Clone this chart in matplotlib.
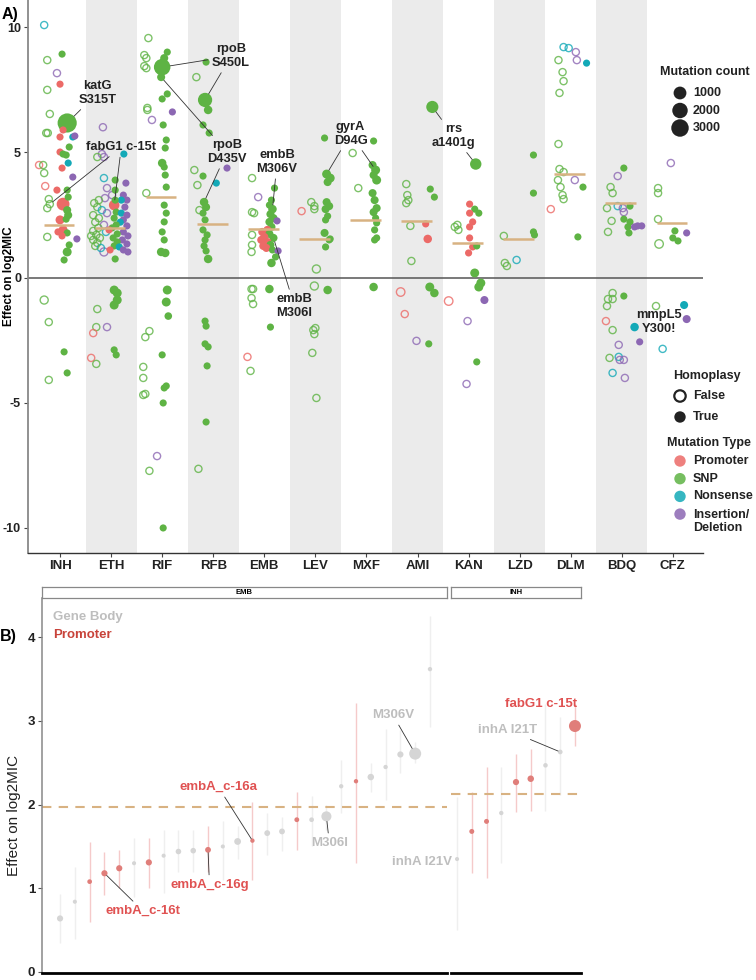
import matplotlib.pyplot as plt
import numpy as np

plt.rcParams['font.family'] = ['Liberation Sans', 'DejaVu Sans']

# ---------------- Panel A data ----------------
drugs = ["INH", "ETH", "RIF", "RFB", "EMB", "LEV", "MXF", "AMI", "KAN", "LZD", "DLM", "BDQ", "CFZ"]
medians = [2.10, 1.98, 3.21, 2.14, 1.94, 1.54, 2.30, 2.26, 1.38, 1.54, 4.13, 2.97, 2.18]

# (jitter, effect on log2MIC, type, homoplasy, mutation count)
# type: P promoter, S SNP, N nonsense, I insertion/deletion
INH = [(-0.31, 10.08, 'N', 0, 10), (-0.25, 8.68, 'S', 0, 10), (-0.06, 8.16, 'I', 0, 10),
       (-0.25, 7.49, 'S', 0, 10), (-0.20, 6.53, 'S', 0, 10), (-0.27, 5.77, 'S', 0, 10),
       (-0.24, 5.77, 'S', 0, 10), (-0.41, 4.49, 'P', 0, 10), (-0.33, 4.49, 'S', 0, 10),
       (-0.31, 4.17, 'S', 0, 10), (-0.29, 3.65, 'P', 0, 10), (-0.22, 3.13, 'S', 0, 10),
       (-0.20, 2.93, 'S', 0, 10), (-0.25, 2.77, 'S', 0, 10), (-0.25, 1.62, 'S', 0, 10),
       (-0.31, -0.90, 'S', 0, 60), (-0.22, -1.78, 'S', 0, 10), (-0.22, -4.09, 'S', 0, 10),
       (0.04, 8.92, 'S', 1, 10), (0.00, 7.72, 'P', 1, 10), (0.14, 6.17, 'S', 1, 4000),
       (0.06, 5.89, 'P', 1, 10), (0.00, 5.61, 'P', 1, 10), (0.25, 5.61, 'N', 1, 10),
       (0.29, 5.65, 'I', 1, 10), (0.18, 5.21, 'S', 1, 10), (0.00, 5.01, 'P', 1, 10),
       (0.06, 4.93, 'S', 1, 10), (0.12, 4.89, 'S', 1, 10), (0.16, 4.57, 'N', 1, 10),
       (0.04, 4.37, 'P', 1, 10), (0.25, 4.01, 'I', 1, 10), (-0.06, 3.49, 'P', 1, 10),
       (0.14, 3.49, 'S', 1, 10), (0.16, 3.21, 'S', 1, 10), (0.06, 2.93, 'P', 1, 1000),
       (0.14, 2.69, 'S', 1, 60), (0.16, 2.49, 'S', 1, 60), (0.12, 2.33, 'S', 1, 10),
       (0.00, 2.30, 'P', 1, 150), (0.06, 1.90, 'P', 1, 150), (-0.04, 1.82, 'P', 1, 10),
       (0.14, 1.78, 'S', 1, 10), (0.04, 1.66, 'P', 1, 10), (0.33, 1.54, 'I', 1, 10),
       (0.18, 1.30, 'S', 1, 10), (0.14, 1.02, 'S', 1, 150), (0.08, 0.70, 'S', 1, 10),
       (0.08, -2.97, 'S', 1, 10), (0.14, -3.81, 'S', 1, 10)]

ETH = [(-0.16, 6.00, 'I', 0, 10), (-0.18, 4.93, 'I', 0, 10), (-0.14, 4.81, 'I', 0, 10),
       (-0.27, 4.81, 'S', 0, 10), (-0.14, 3.97, 'N', 0, 10), (-0.08, 3.57, 'I', 0, 10),
       (0.02, 3.29, 'I', 0, 10), (-0.12, 3.17, 'I', 0, 10), (-0.24, 3.09, 'S', 0, 10),
       (-0.33, 2.97, 'S', 0, 10), (-0.27, 2.81, 'S', 0, 10), (-0.18, 2.69, 'N', 0, 10),
       (-0.08, 2.57, 'I', 0, 10), (-0.35, 2.49, 'S', 0, 10), (-0.24, 2.37, 'S', 0, 10),
       (-0.31, 2.21, 'S', 0, 10), (-0.14, 2.10, 'I', 0, 10), (-0.25, 1.98, 'S', 0, 10),
       (-0.35, 1.86, 'S', 0, 10), (-0.10, 1.82, 'N', 0, 10), (-0.29, 1.70, 'S', 0, 10),
       (-0.22, 1.58, 'S', 0, 10), (-0.35, 1.50, 'S', 0, 10), (-0.27, 1.38, 'S', 0, 10),
       (-0.20, 1.18, 'N', 0, 10), (-0.14, 1.02, 'I', 0, 60), (-0.31, 1.26, 'S', 0, 10),
       (-0.39, 1.66, 'S', 0, 10), (-0.27, -1.26, 'S', 0, 10), (-0.29, -1.98, 'S', 0, 10),
       (-0.08, -1.98, 'I', 0, 10), (-0.35, -2.22, 'P', 0, 10), (-0.39, -3.21, 'P', 0, 10),
       (-0.29, -3.45, 'S', 0, 10),
       (0.25, 4.93, 'N', 1, 10), (0.08, 3.89, 'S', 1, 10), (0.29, 3.77, 'I', 1, 10),
       (0.08, 3.49, 'S', 1, 10), (0.24, 3.29, 'I', 1, 10), (0.31, 3.09, 'I', 1, 10),
       (0.20, 3.09, 'N', 1, 10), (0.08, 3.09, 'S', 1, 10), (0.06, 2.89, 'P', 1, 400),
       (0.27, 2.81, 'I', 1, 10), (0.10, 2.61, 'S', 1, 10), (0.20, 2.57, 'N', 1, 10),
       (0.31, 2.49, 'I', 1, 10), (0.06, 2.37, 'S', 1, 10), (0.24, 2.30, 'I', 1, 10),
       (0.18, 2.21, 'N', 1, 10), (0.10, 2.10, 'S', 1, 10), (0.31, 2.06, 'I', 1, 10),
       (0.02, 1.98, 'S', 1, 10), (-0.04, 1.90, 'P', 1, 10), (0.24, 1.82, 'I', 1, 10),
       (0.12, 1.74, 'S', 1, 10), (0.33, 1.66, 'I', 1, 10), (0.04, 1.58, 'S', 1, 10),
       (0.22, 1.50, 'I', 1, 10), (0.12, 1.42, 'S', 1, 10), (0.31, 1.34, 'I', 1, 10),
       (0.06, 1.26, 'S', 1, 10), (0.16, 1.22, 'N', 1, 10), (0.24, 1.10, 'I', 1, 10),
       (-0.02, 1.10, 'P', 1, 10), (0.33, 1.02, 'I', 1, 10), (0.08, 0.74, 'S', 1, 10),
       (0.06, -0.50, 'S', 1, 150), (0.12, -0.62, 'S', 1, 150), (0.12, -0.90, 'S', 1, 150),
       (0.06, -1.10, 'S', 1, 150), (0.06, -2.89, 'S', 1, 10), (0.10, -3.09, 'S', 1, 10)]

RIF = [(-0.27, 9.56, 'S', 0, 10), (-0.35, 8.88, 'S', 0, 10), (-0.31, 8.76, 'S', 0, 10),
       (-0.35, 8.44, 'S', 0, 10), (-0.31, 8.36, 'S', 0, 10), (-0.29, 6.77, 'S', 0, 10),
       (-0.29, 6.69, 'S', 0, 10), (-0.20, 6.29, 'I', 0, 10), (-0.31, 3.37, 'S', 0, 10),
       (-0.25, -2.14, 'S', 0, 10), (-0.33, -2.38, 'S', 0, 10), (-0.37, -3.57, 'S', 0, 10),
       (-0.37, -4.01, 'S', 0, 10), (-0.37, -4.69, 'S', 0, 10), (-0.33, -4.65, 'S', 0, 10),
       (-0.10, -7.13, 'I', 0, 10), (-0.25, -7.72, 'S', 0, 10),
       (0.10, 9.00, 'S', 1, 10), (0.04, 8.76, 'S', 1, 60), (0.00, 8.40, 'S', 1, 2500),
       (-0.02, 8.00, 'S', 1, 60), (0.10, 7.33, 'S', 1, 10), (0.00, 7.13, 'S', 1, 10),
       (0.20, 6.61, 'I', 1, 10), (0.02, 6.09, 'S', 1, 10), (0.08, 5.49, 'S', 1, 10),
       (0.06, 5.17, 'S', 1, 10), (0.00, 4.57, 'S', 1, 100), (0.04, 4.41, 'S', 1, 10),
       (0.06, 4.09, 'S', 1, 10), (0.08, 3.61, 'S', 1, 10), (0.04, 2.89, 'S', 1, 10),
       (0.08, 2.57, 'S', 1, 10), (0.04, 2.22, 'S', 1, 10), (0.00, 1.82, 'S', 1, 10),
       (0.04, 1.50, 'S', 1, 10), (-0.02, 1.02, 'S', 1, 100), (0.06, 0.98, 'S', 1, 100),
       (0.10, -0.50, 'S', 1, 150), (0.08, -0.98, 'S', 1, 150), (0.12, -1.54, 'S', 1, 30),
       (0.00, -3.09, 'S', 1, 10), (0.08, -4.33, 'S', 1, 10), (0.04, -4.41, 'S', 1, 10),
       (0.02, -5.01, 'S', 1, 10), (0.02, -10.00, 'S', 1, 10)]

RFB = [(-0.33, 8.00, 'S', 0, 10), (-0.37, 4.29, 'S', 0, 10), (-0.31, 3.69, 'S', 0, 10),
       (-0.27, 2.69, 'S', 0, 10), (-0.29, -7.64, 'S', 0, 10),
       (-0.14, 8.60, 'S', 1, 10), (-0.16, 7.09, 'S', 1, 1500), (-0.10, 6.69, 'S', 1, 100),
       (-0.20, 6.09, 'S', 1, 10), (-0.08, 5.77, 'S', 1, 10), (-0.20, 4.05, 'S', 1, 10),
       (0.06, 3.77, 'N', 1, 10), (0.27, 4.37, 'I', 1, 10), (-0.18, 3.01, 'S', 1, 100),
       (-0.14, 2.81, 'S', 1, 60), (-0.20, 2.57, 'S', 1, 10), (-0.16, 2.30, 'S', 1, 10),
       (-0.20, 1.90, 'S', 1, 10), (-0.12, 1.70, 'S', 1, 10), (-0.16, 1.50, 'S', 1, 10),
       (-0.18, 1.26, 'S', 1, 10), (-0.14, 1.06, 'S', 1, 10), (-0.10, 0.74, 'S', 1, 100),
       (-0.16, -1.74, 'S', 1, 10), (-0.14, -1.94, 'S', 1, 10), (-0.16, -2.65, 'S', 1, 10),
       (-0.10, -2.77, 'S', 1, 10), (-0.12, -3.53, 'S', 1, 10), (-0.14, -5.77, 'S', 1, 10)]

EMB = [(-0.24, 3.97, 'S', 0, 10), (-0.12, 3.21, 'I', 0, 10), (-0.24, 2.61, 'S', 0, 10),
       (-0.20, 2.57, 'S', 0, 10), (-0.24, 1.70, 'S', 0, 10), (-0.24, 1.30, 'S', 0, 10),
       (-0.25, 1.02, 'S', 0, 10), (-0.25, -0.46, 'S', 0, 10), (-0.22, -0.46, 'S', 0, 10),
       (-0.25, -0.82, 'S', 0, 10), (-0.22, -1.06, 'S', 0, 10), (-0.33, -3.17, 'P', 0, 10),
       (-0.27, -3.73, 'S', 0, 10),
       (0.20, 3.57, 'S', 1, 10), (0.14, 3.09, 'S', 1, 10), (0.10, 2.89, 'S', 1, 10),
       (0.16, 2.73, 'S', 1, 100), (0.12, 2.53, 'S', 1, 60), (0.18, 2.37, 'S', 1, 60),
       (0.25, 2.26, 'I', 1, 10), (0.10, 2.22, 'S', 1, 60), (0.14, 2.02, 'S', 1, 60),
       (0.06, 1.90, 'P', 1, 60), (-0.04, 1.82, 'P', 1, 60), (0.10, 1.74, 'S', 1, 60),
       (0.00, 1.62, 'P', 1, 60), (0.18, 1.58, 'S', 1, 60), (-0.06, 1.50, 'P', 1, 60),
       (0.06, 1.42, 'P', 1, 60), (0.12, 1.30, 'S', 1, 60), (-0.02, 1.26, 'P', 1, 60),
       (0.04, 1.18, 'P', 1, 60), (0.16, 1.10, 'S', 1, 10), (0.27, 1.06, 'I', 1, 10),
       (0.22, 0.82, 'S', 1, 10), (0.14, 0.58, 'S', 1, 100), (0.10, -0.46, 'S', 1, 100),
       (0.12, -1.98, 'S', 1, 10)]

LEV = [(-0.27, 2.65, 'P', 0, 10), (-0.08, 3.01, 'S', 0, 10), (-0.02, 2.85, 'S', 0, 10),
       (-0.02, 2.73, 'S', 0, 10), (0.02, 0.34, 'S', 0, 60), (-0.02, -0.34, 'S', 0, 60),
       (0.00, -2.02, 'S', 0, 10), (-0.04, -2.10, 'S', 0, 10), (-0.02, -2.26, 'S', 0, 10),
       (-0.06, -3.01, 'S', 0, 10), (0.02, -4.81, 'S', 0, 10),
       (0.18, 5.57, 'S', 1, 10), (0.22, 4.13, 'S', 1, 150), (0.29, 3.97, 'S', 1, 150),
       (0.24, 3.81, 'S', 1, 60), (0.22, 3.01, 'S', 1, 60), (0.27, 2.85, 'S', 1, 60),
       (0.20, 2.73, 'S', 1, 60), (0.24, 2.45, 'S', 1, 10), (0.20, 2.30, 'S', 1, 10),
       (0.18, 1.78, 'S', 1, 60), (0.29, 1.54, 'S', 1, 10), (0.27, 1.50, 'S', 1, 10),
       (0.20, 1.22, 'S', 1, 10), (0.24, -0.50, 'S', 1, 100)]

MXF = [(-0.27, 4.97, 'S', 0, 10), (-0.16, 3.57, 'S', 0, 10),
       (0.14, 5.45, 'S', 1, 10), (0.12, 4.49, 'S', 1, 60), (0.18, 4.29, 'S', 1, 150),
       (0.14, 4.09, 'S', 1, 60), (0.20, 3.89, 'S', 1, 150), (0.12, 3.37, 'S', 1, 60),
       (0.16, 3.09, 'S', 1, 60), (0.20, 2.77, 'S', 1, 60), (0.14, 2.61, 'S', 1, 60),
       (0.18, 2.37, 'S', 1, 10), (0.20, 2.18, 'S', 1, 10), (0.16, 1.90, 'S', 1, 10),
       (0.20, 1.58, 'S', 1, 10), (0.16, 1.50, 'S', 1, 10), (0.14, -0.38, 'S', 1, 100)]

AMI = [(-0.22, 3.73, 'S', 0, 10), (-0.20, 3.29, 'S', 0, 10), (-0.18, 3.09, 'S', 0, 10),
       (-0.22, 2.97, 'S', 0, 10), (-0.14, 2.06, 'S', 0, 10), (-0.12, 0.66, 'S', 0, 10),
       (-0.33, -0.58, 'P', 0, 100), (-0.25, -1.46, 'P', 0, 10), (-0.02, -2.53, 'I', 0, 10),
       (0.29, 6.81, 'S', 1, 800), (0.25, 3.53, 'S', 1, 10), (0.33, 3.21, 'S', 1, 10),
       (0.16, 2.14, 'P', 1, 10), (0.20, 1.54, 'P', 1, 100), (0.24, -0.38, 'S', 1, 150),
       (0.33, -0.62, 'S', 1, 100), (0.22, -2.65, 'S', 1, 10)]

KAN = [(-0.27, 2.02, 'S', 0, 10), (-0.22, 2.10, 'S', 0, 10), (-0.20, 1.90, 'S', 0, 10),
       (-0.39, -0.94, 'P', 0, 100), (-0.02, -1.74, 'I', 0, 10), (-0.04, -4.25, 'I', 0, 10),
       (0.14, 4.53, 'S', 1, 600), (0.02, 2.93, 'P', 1, 10), (0.12, 2.73, 'S', 1, 10),
       (0.20, 2.57, 'S', 1, 10), (0.02, 2.57, 'P', 1, 10), (0.08, 2.22, 'P', 1, 10),
       (0.02, 2.02, 'P', 1, 10), (0.02, 1.58, 'P', 1, 10), (0.08, 1.22, 'P', 1, 10),
       (0.00, 0.98, 'P', 1, 10), (0.16, 1.26, 'S', 1, 10), (0.12, 0.18, 'S', 1, 150),
       (0.24, -0.22, 'S', 1, 150), (0.20, -0.38, 'S', 1, 150), (0.31, -0.90, 'I', 1, 60),
       (0.16, -3.37, 'S', 1, 10)]

LZD = [(-0.31, 1.66, 'S', 0, 10), (-0.29, 0.58, 'S', 0, 10), (-0.25, 0.46, 'S', 0, 10),
       (-0.06, 0.70, 'N', 0, 10),
       (0.27, 4.89, 'S', 1, 10), (0.27, 3.37, 'S', 1, 10), (0.27, 1.82, 'S', 1, 10),
       (0.29, 1.70, 'S', 1, 10)]

DLM = [(-0.14, 9.20, 'N', 0, 10), (-0.04, 9.16, 'N', 0, 10), (0.10, 9.00, 'I', 0, 10),
       (0.12, 8.68, 'I', 0, 10), (-0.24, 8.68, 'S', 0, 10), (-0.16, 8.20, 'S', 0, 10),
       (-0.14, 7.84, 'S', 0, 10), (-0.22, 7.37, 'S', 0, 10), (-0.24, 5.33, 'S', 0, 10),
       (-0.22, 4.33, 'S', 0, 10), (-0.14, 4.21, 'S', 0, 10), (-0.25, 3.89, 'S', 0, 10),
       (0.08, 3.89, 'I', 0, 10), (-0.20, 3.61, 'S', 0, 10), (-0.16, 3.29, 'S', 0, 10),
       (-0.14, 3.13, 'S', 0, 10), (-0.39, 2.73, 'P', 0, 10),
       (0.31, 8.56, 'N', 1, 10), (0.24, 3.61, 'S', 1, 10), (0.14, 1.62, 'S', 1, 10)]

BDQ = [(-0.08, 4.05, 'I', 0, 10), (-0.22, 3.61, 'S', 0, 10), (-0.18, 3.37, 'S', 0, 10),
       (-0.29, 2.77, 'S', 0, 10), (-0.08, 2.85, 'N', 0, 10), (0.02, 2.77, 'I', 0, 10),
       (0.04, 2.61, 'I', 0, 10), (-0.20, 2.26, 'S', 0, 10), (-0.27, 1.82, 'S', 0, 10),
       (-0.18, -0.62, 'S', 0, 10), (-0.27, -0.86, 'S', 0, 10), (-0.18, -0.86, 'S', 0, 10),
       (-0.29, -1.14, 'S', 0, 10), (-0.31, -1.74, 'P', 0, 10), (-0.18, -2.10, 'S', 0, 10),
       (-0.06, -2.69, 'I', 0, 10), (-0.24, -3.21, 'S', 0, 10), (-0.06, -3.17, 'N', 0, 10),
       (-0.04, -3.29, 'I', 0, 10), (0.04, -3.29, 'I', 0, 10), (-0.18, -3.81, 'N', 0, 10),
       (0.06, -4.01, 'I', 0, 10),
       (0.04, 4.37, 'S', 1, 10), (0.16, 2.85, 'S', 1, 10), (0.04, 2.33, 'S', 1, 10),
       (0.16, 2.22, 'S', 1, 10), (0.12, 2.02, 'S', 1, 10), (0.14, 1.78, 'S', 1, 10),
       (0.25, 2.02, 'I', 1, 10), (0.31, 2.06, 'I', 1, 10), (0.39, 2.06, 'I', 1, 10),
       (0.04, -0.74, 'S', 1, 10), (0.25, -1.98, 'N', 1, 100), (0.35, -2.57, 'I', 1, 10)]

CFZ = [(-0.04, 4.57, 'I', 0, 10), (-0.29, 3.57, 'S', 0, 10), (-0.29, 3.37, 'S', 0, 10),
       (-0.29, 2.33, 'S', 0, 10), (-0.27, 1.34, 'S', 0, 100), (-0.33, -1.14, 'S', 0, 10),
       (-0.20, -2.85, 'N', 0, 10),
       (0.04, 1.86, 'S', 1, 10), (0.00, 1.58, 'S', 1, 10), (0.10, 1.46, 'S', 1, 10),
       (0.27, 1.78, 'I', 1, 10), (0.22, -1.10, 'N', 1, 60), (0.27, -1.66, 'I', 1, 60)]

mutations = [INH, ETH, RIF, RFB, EMB, LEV, MXF, AMI, KAN, LZD, DLM, BDQ, CFZ]

type_colors = {'P': '#EC6A67', 'S': '#5EB344', 'N': '#13A9B7', 'I': '#8C67B3'}
type_names = {'P': 'Promoter', 'S': 'SNP', 'N': 'Nonsense', 'I': 'Insertion/\nDeletion'}
count_breaks = [1000, 2000, 3000]

# labels: text, drug, effect of labelled point(s), text position
a_labels = [("katG\nS315T", [("INH", 6.17)], 0.73, 7.36),
            ("fabG1 c-15t", [("INH", 2.93), ("ETH", 2.89)], 1.20, 5.21),
            ("rpoB\nS450L", [("RIF", 8.40), ("RFB", 7.09)], 3.35, 8.84),
            ("rpoB\nD435V", [("RIF", 8.00), ("RFB", 3.01)], 3.27, 5.01),
            ("embB\nM306V", [("EMB", 2.73)], 4.25, 4.61),
            ("embB\nM306I", [("EMB", 1.58)], 4.59, -1.14),
            ("gyrA\nD94G", [("LEV", 4.13), ("MXF", 4.29)], 5.69, 5.73),
            ("rrs\na1401g", [("AMI", 6.81), ("KAN", 4.53)], 7.71, 5.65),
            ("mmpL5\nY300!", [], 11.73, -1.78)]

# ---------------- Panel B data ----------------
emb_eff = [0.64, 0.84, 1.08, 1.18, 1.24, 1.30, 1.31, 1.39, 1.44, 1.45, 1.46, 1.50, 1.56,
           1.57, 1.66, 1.68, 1.82, 1.82, 1.86, 2.22, 2.28, 2.33, 2.45, 2.60, 2.61, 3.62]
emb_lo = [0.35, 0.40, 0.60, 0.92, 1.00, 0.90, 1.00, 0.94, 1.20, 1.20, 1.20, 1.10, 1.35,
          1.10, 1.40, 1.45, 1.46, 1.50, 1.70, 1.90, 1.30, 2.15, 2.05, 2.38, 2.50, 2.93]
emb_hi = [0.93, 1.25, 1.55, 1.44, 1.46, 1.60, 1.60, 1.70, 1.70, 1.70, 1.74, 1.80, 1.75,
          2.03, 1.90, 1.85, 2.15, 2.10, 2.00, 2.53, 3.22, 2.50, 2.91, 2.89, 2.75, 4.25]
emb_region = ['G', 'G', 'P', 'P', 'P', 'G', 'P', 'G', 'G', 'G', 'P', 'G', 'G',
              'P', 'G', 'G', 'P', 'G', 'G', 'G', 'P', 'G', 'G', 'G', 'G', 'G']
emb_n = [20, 1, 4, 20, 20, 1, 20, 1, 12, 12, 15, 1, 30, 2, 15, 15, 5, 4, 120, 2, 2, 25, 2, 20, 200, 2]

inh_eff = [1.35, 1.68, 1.80, 1.90, 2.27, 2.31, 2.47, 2.63, 2.94]
inh_lo = [0.50, 1.18, 1.12, 1.30, 1.91, 1.93, 1.93, 2.11, 2.70]
inh_hi = [2.09, 2.15, 2.45, 2.45, 2.61, 2.67, 3.20, 3.05, 3.20]
inh_region = ['G', 'P', 'P', 'G', 'P', 'P', 'G', 'G', 'P']
inh_n = [1, 6, 6, 2, 20, 25, 3, 4, 200]

emb_median = 1.97
inh_median = 2.13

# text, index of point, text x, text y, line drawn
emb_labels = [("embA_c-16t", 3, 6.6, 0.73, True),
              ("embA_c-16g", 10, 11.1, 1.04, True),
              ("embA_c-16a", 13, 11.7, 2.21, True),
              ("M306I", 18, 19.2, 1.54, True),
              ("M306V", 24, 23.5, 3.07, True)]
inh_labels = [("inhA I21V", 0, -1.4, 1.31, False),
              ("inhA I21T", 7, 4.46, 2.89, True),
              ("fabG1 c-15t", 8, 6.69, 3.20, False)]

region_pt = {'G': '#D5D5D5', 'P': '#E07E7A'}
region_bar = {'G': '#EFEFEF', 'P': '#F5CACA'}
region_txt = {'G': '#BEBEBE', 'P': '#E05252'}
tan = '#D8B282'

W, H = 756, 980
fig = plt.figure(figsize=(W / 100, H / 100), dpi=100)


def px_axes(x0, y0, x1, y1):
    return fig.add_axes([x0 / W, 1 - y1 / H, (x1 - x0) / W, (y1 - y0) / H])


def size_a(count):
    d_px = 6.5 + 0.2 * np.sqrt(count)
    return (d_px * 0.72) ** 2


def size_b(n):
    d_px = 3.5 + 0.6 * np.sqrt(n)
    return (d_px * 0.72) ** 2


# ================= Panel A =================
ax = px_axes(28, 0, 703, 553)
ax.set_xlim(-0.627, 12.59)
ax.set_ylim(-11.0, 11.08)
for i in range(len(drugs)):
    if i % 2 == 1:
        ax.axvspan(i - 0.5, i + 0.5, color='#EBEBEB', zorder=0, lw=0)
ax.axhline(0, color='#555555', lw=1.1, zorder=1)

for i, pts in enumerate(mutations):
    order = sorted(pts, key=lambda p: -p[4])
    for dx, eff, t, homo, cnt in order:
        c = type_colors[t]
        if homo:
            ax.scatter(i + dx, eff, s=size_a(cnt), color=c, edgecolors='none', zorder=3)
        else:
            ax.scatter(i + dx, eff, s=size_a(cnt), facecolors='none', edgecolors=c,
                       linewidths=1.0, alpha=0.8, zorder=2)
    ax.plot([i - 0.32, i + 0.28], [medians[i], medians[i]], color=tan, lw=1.8, zorder=4,
            solid_capstyle='butt')


def find_pt(drug, eff):
    i = drugs.index(drug)
    p = min(mutations[i], key=lambda q: abs(q[1] - eff))
    return i + p[0], p[1], p[4]


for text, targets, tx, ty in a_labels:
    if not targets:
        ax.text(tx, ty, text, ha='center', va='center', fontsize=9.3, fontweight='bold',
                color='#222222', zorder=6, linespacing=1.15)
    for k, (drug, eff) in enumerate(targets):
        x, y, cnt = find_pt(drug, eff)
        r = np.sqrt(size_a(cnt)) / 2
        ax.annotate(text, xy=(x, y), xytext=(tx, ty), ha='center', va='center',
                    fontsize=9.3, fontweight='bold', color='#222222' if k == 0 else 'none',
                    zorder=6, linespacing=1.15,
                    arrowprops=dict(arrowstyle='-', color='#333333', lw=0.6,
                                    shrinkA=1, shrinkB=r))

ax.set_xticks(range(len(drugs)))
ax.set_xticklabels(drugs, fontsize=9.5, fontweight='bold')
ax.set_yticks([-10, -5, 0, 5, 10])
ax.set_yticklabels(['-10', '-5', '0', '5', '10'], fontsize=9, fontweight='bold')
ax.tick_params(axis='both', length=3, width=0.8, color='#444444', labelcolor='#222222', pad=2)
for side in ['top', 'right']:
    ax.spines[side].set_visible(False)
ax.spines['left'].set_color('#888888')
ax.spines['left'].set_linewidth(1.3)
ax.spines['bottom'].set_color('#333333')
ax.spines['bottom'].set_linewidth(1.0)
ax.set_ylabel('Effect on log2MIC', fontsize=8.5, fontweight='bold')
ax.yaxis.set_label_coords(-0.019, 0.5)

fig.text(2 / W, 1 - 14 / H, 'A)', fontsize=11.5, fontweight='bold', va='center')

# ================= Panel B =================
ax_e = px_axes(42, 598, 447, 973)
ax_i = px_axes(451, 598, 581, 973)
ax_e.set_xlim(-0.22, 27.15)
ax_i.set_xlim(0.59, 9.41)
for a in (ax_e, ax_i):
    a.set_ylim(-0.012, 4.47)
    a.set_xticks([])
    for side in ['top', 'right']:
        a.spines[side].set_visible(False)
    a.spines['bottom'].set_color('black')
    a.spines['bottom'].set_linewidth(2.0)
ax_i.spines['left'].set_visible(False)
ax_i.set_yticks([])
ax_e.spines['left'].set_color('#888888')
ax_e.spines['left'].set_linewidth(1.1)
ax_e.set_yticks([0, 1, 2, 3, 4])
ax_e.set_yticklabels(['0', '1', '2', '3', '4'], fontsize=9.5, fontweight='bold')
ax_e.tick_params(axis='y', length=3, width=0.8, color='#555555', labelcolor='#222222', pad=2)

for a, eff, lo, hi, reg, n, med, labels in [
        (ax_e, emb_eff, emb_lo, emb_hi, emb_region, emb_n, emb_median, emb_labels),
        (ax_i, inh_eff, inh_lo, inh_hi, inh_region, inh_n, inh_median, inh_labels)]:
    xs = np.arange(1, len(eff) + 1)
    a.vlines(xs, lo, hi, colors=[region_bar[r] for r in reg], lw=1.0, zorder=1)
    a.axhline(med, color=tan, lw=1.5, ls=(0, (4.5, 3.5)), zorder=2)
    a.scatter(xs, eff, s=[size_b(v) for v in n], c=[region_pt[r] for r in reg],
              edgecolors='none', zorder=3)
    for text, idx, tx, ty, line in labels:
        col = region_txt[reg[idx]]
        if line:
            r = np.sqrt(size_b(n[idx])) / 2
            a.annotate(text, xy=(xs[idx], eff[idx]), xytext=(tx, ty), ha='center', va='center',
                       fontsize=9.5, fontweight='bold', color=col, annotation_clip=False,
                       arrowprops=dict(arrowstyle='-', color='#333333', lw=0.6,
                                       shrinkA=1, shrinkB=r))
        else:
            a.text(tx, ty, text, ha='center', va='center', fontsize=9.5, fontweight='bold',
                   color=col, clip_on=False)

ax_e.text(0.027, 0.949, 'Gene Body', transform=ax_e.transAxes, fontsize=9.5,
          fontweight='bold', color=region_txt['G'], va='center')
ax_e.text(0.027, 0.901, 'Promoter', transform=ax_e.transAxes, fontsize=9.5,
          fontweight='bold', color='#C8433A', va='center')
ax_e.set_ylabel('Effect on log2MIC', fontsize=11, color='#222222')
ax_e.yaxis.set_label_coords(-0.052, 0.42)

for x0, x1, name in [(42, 447, 'EMB'), (451, 581, 'INH')]:
    sa = px_axes(x0, 587, x1, 598)
    sa.set_xticks([])
    sa.set_yticks([])
    for sp in sa.spines.values():
        sp.set_color('#888888')
        sp.set_linewidth(0.9)
    sa.text(0.5, 0.5, name, ha='center', va='center', fontsize=5.5, fontweight='bold',
            transform=sa.transAxes)

fig.text(0 / W, 1 - 636 / H, 'B)', fontsize=11.5, fontweight='bold', va='center')

# ================= Legends (right side of panel A) =================
lg = fig.add_axes([0, 0, 1, 1], zorder=10)
lg.set_xlim(0, W)
lg.set_ylim(H, 0)
lg.axis('off')
lkw = dict(fontsize=9, fontweight='bold', va='center', color='#222222')

lg.text(660, 72, 'Mutation count', **lkw)
for k, c in enumerate(count_breaks):
    y = 93 + 17.5 * k
    lg.scatter(680, y, s=size_a(c), color='#222222', edgecolors='none')
    lg.text(693, y, str(c), **lkw)

lg.text(673, 376, 'Homoplasy', **lkw)
lg.scatter(680, 396, s=size_a(600), facecolors='none', edgecolors='#222222', linewidths=1.6)
lg.text(693, 396, 'False', **lkw)
lg.scatter(680, 417, s=size_a(600), color='#222222', edgecolors='none')
lg.text(693, 417, 'True', **lkw)

lg.text(667, 443, 'Mutation Type', **lkw)
for k, t in enumerate(['P', 'S', 'N', 'I']):
    y = 461 + 17.7 * k
    lg.scatter(680, y, s=size_a(600), color=type_colors[t], edgecolors='none', alpha=0.85)
    lg.text(693, y + (7.5 if t == 'I' else 0), type_names[t], linespacing=1.05, **lkw)

fig.savefig('out.png', dpi=100)
